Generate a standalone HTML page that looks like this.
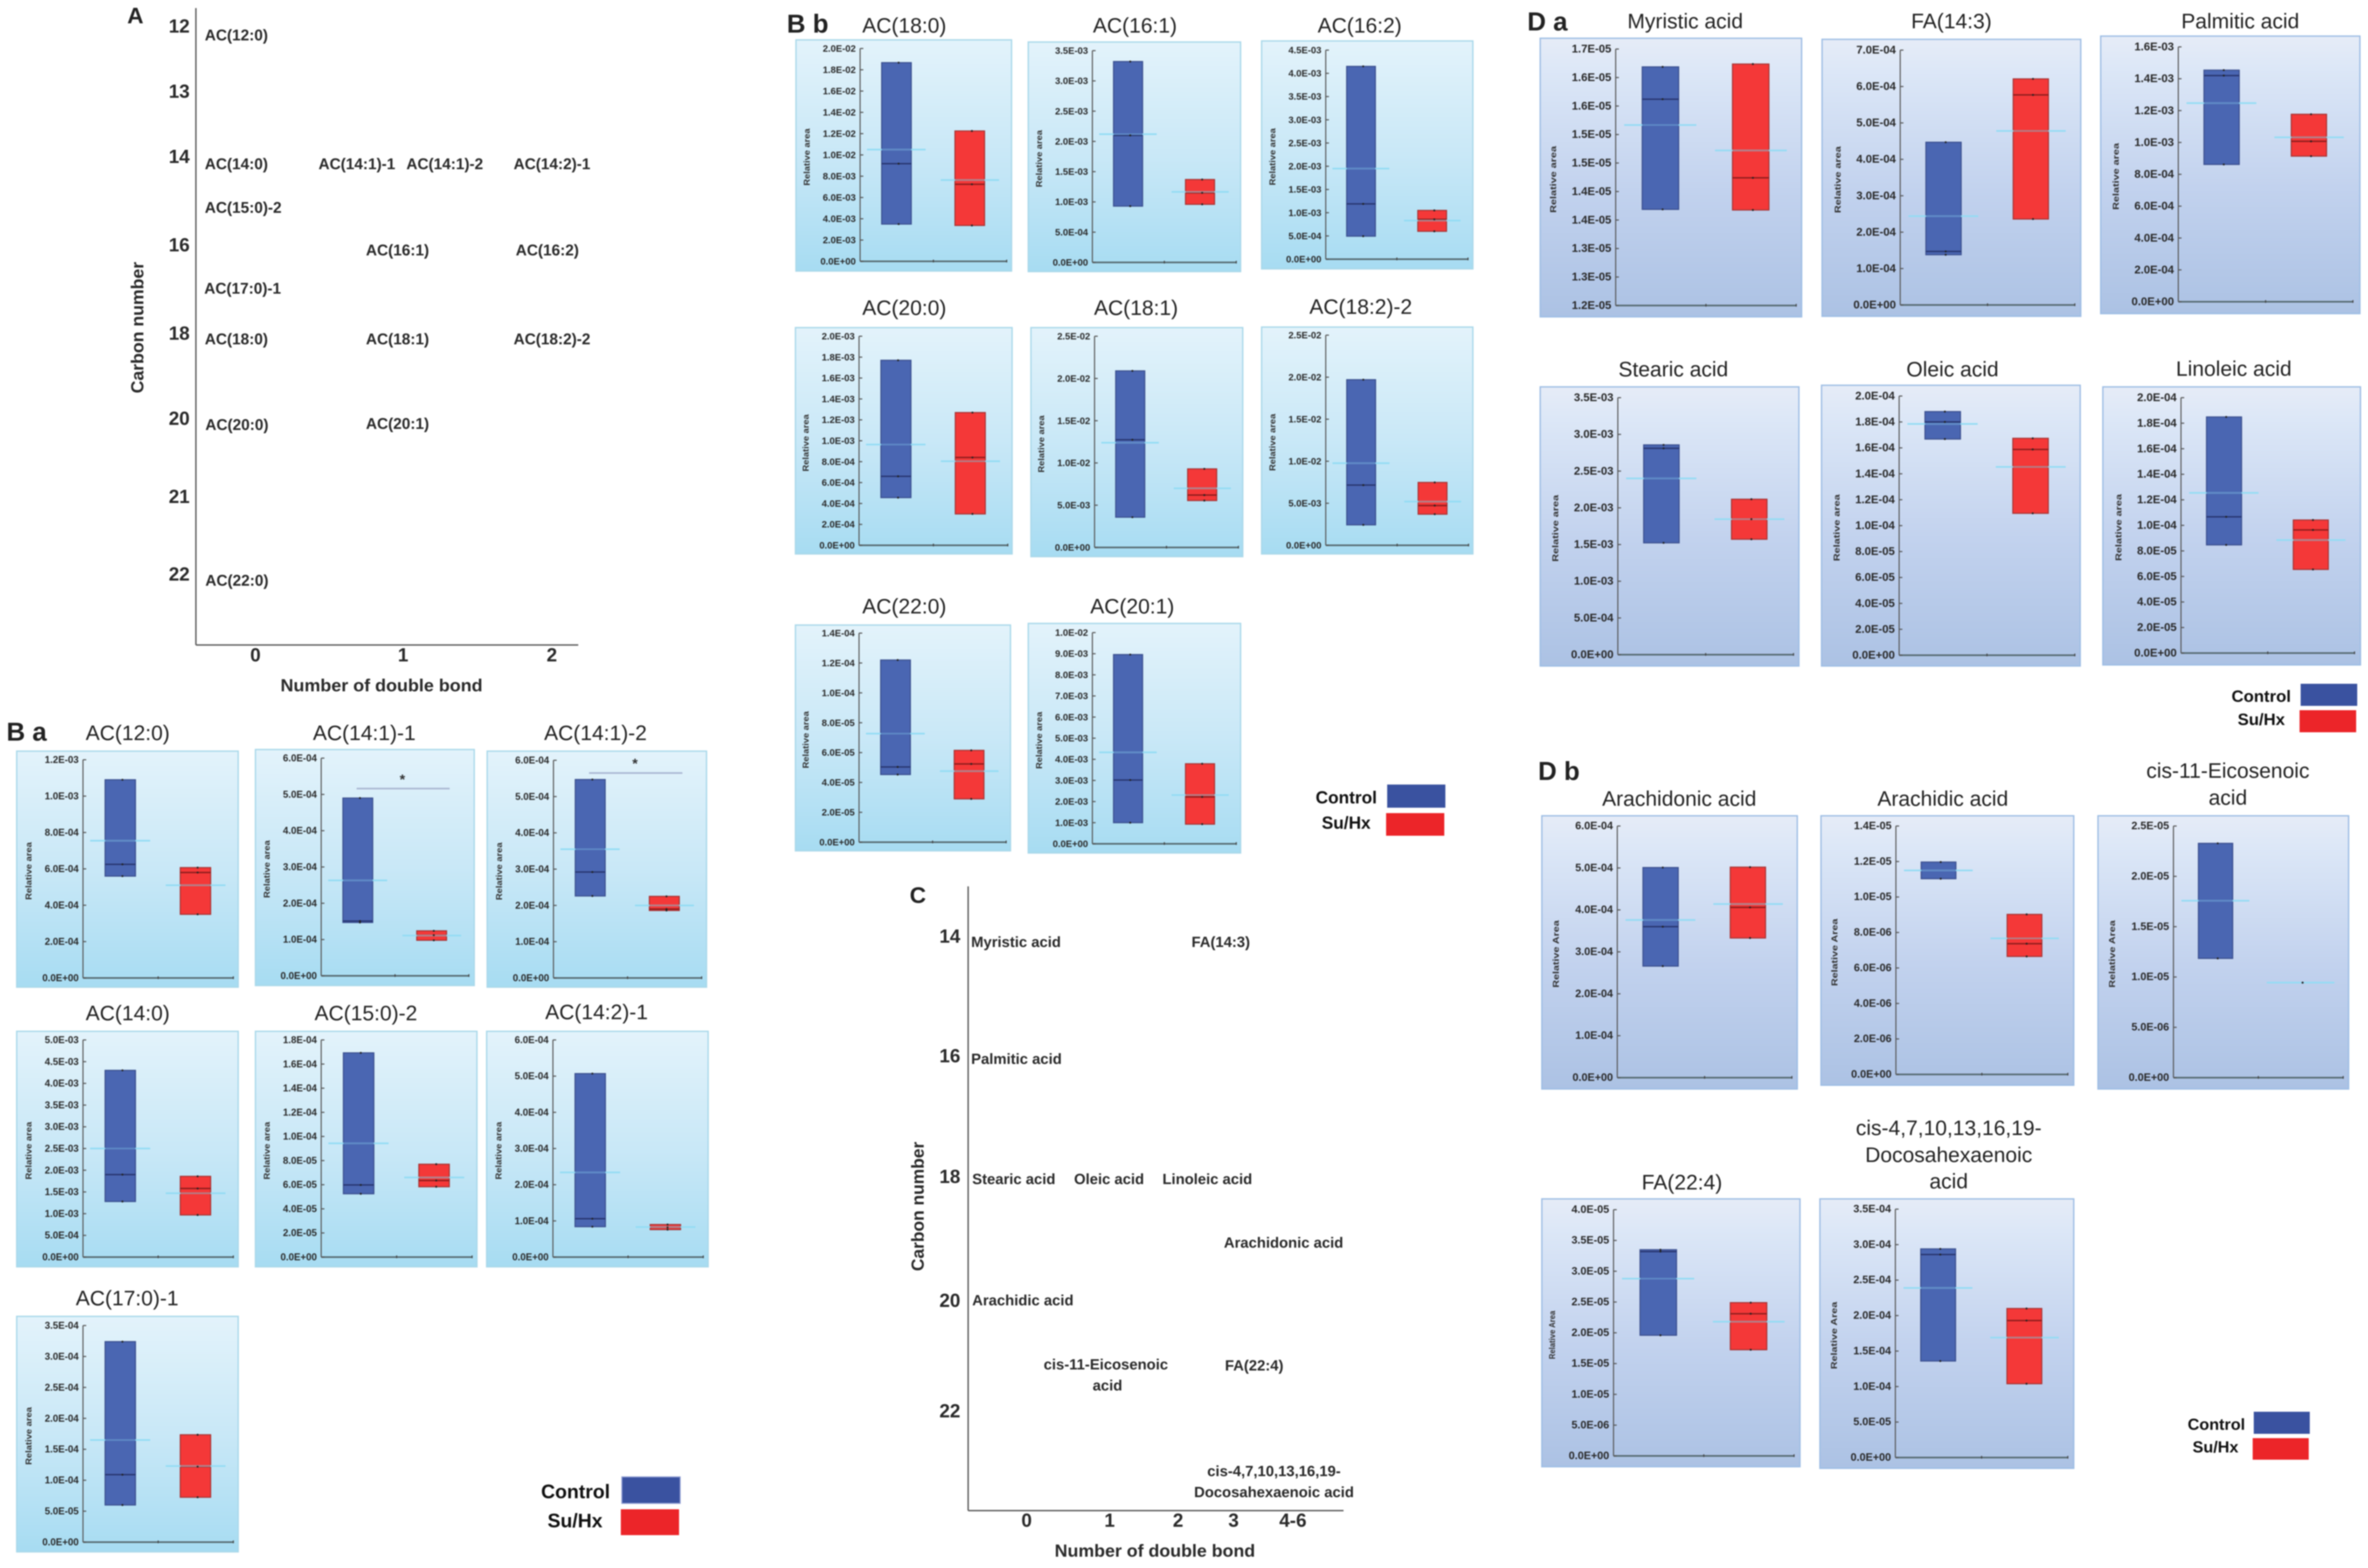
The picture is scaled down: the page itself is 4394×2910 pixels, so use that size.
<!DOCTYPE html>
<html lang="en">
<head>
<meta charset="utf-8">
<title>Acylcarnitine and fatty acid box plots</title>
<style>
html,body{margin:0;padding:0;background:#fff;width:4394px;height:2910px;overflow:hidden}
svg{display:block;font-family:"Liberation Sans",sans-serif;filter:blur(1px)}
.lab{font-size:27.5px;font-weight:700;fill:#2a2a2a;dominant-baseline:central}
.laba{font-size:28.5px}
.num{font-size:35px;font-weight:700;fill:#2a2a2a;dominant-baseline:central}
.axt{font-size:32px;font-weight:700;fill:#2a2a2a;dominant-baseline:central;text-anchor:middle}
.sec{font-size:48px;font-weight:700;fill:#222;dominant-baseline:central}
.ttl{font-size:39px;fill:#222;dominant-baseline:central;text-anchor:middle}
.lg{font-weight:700;fill:#111;dominant-baseline:central}
</style>
</head>
<body>
<svg id="figure" xmlns="http://www.w3.org/2000/svg" width="4394" height="2910" viewBox="0 0 4394 2910">
<defs>
<linearGradient id="skyPanel" x1="0" y1="0" x2="0" y2="1"><stop offset="0" stop-color="#e3f3fb"/><stop offset=".5" stop-color="#c9e8f7"/><stop offset="1" stop-color="#a7dcf2"/></linearGradient>
<linearGradient id="periPanel" x1="0" y1="0" x2="0" y2="1"><stop offset="0" stop-color="#e6ecf7"/><stop offset=".12" stop-color="#dce7f7"/><stop offset=".55" stop-color="#c2d2ee"/><stop offset="1" stop-color="#acc2e4"/></linearGradient>
</defs>
<rect x="0" y="0" width="4394" height="2910" fill="#ffffff"/>

<!-- Panel A -->
<g>
<text class="sec" x="236" y="29" style="font-size:42px">A</text>
<line x1="363.5" y1="15" x2="363.5" y2="1197" stroke="#555" stroke-width="2.5"/>
<line x1="363.5" y1="1197" x2="1073" y2="1197" stroke="#555" stroke-width="2.5"/>
<text class="axt" transform="rotate(-90 255 608)" x="255" y="608" textLength="244" lengthAdjust="spacingAndGlyphs">Carbon number</text>
<text class="axt" x="708" y="1272" textLength="375" lengthAdjust="spacingAndGlyphs">Number of double bond</text>
<g text-anchor="end">
<text class="num" x="352" y="49">12</text>
<text class="num" x="352" y="170">13</text>
<text class="num" x="352" y="291">14</text>
<text class="num" x="352" y="455">16</text>
<text class="num" x="352" y="619">18</text>
<text class="num" x="352" y="777">20</text>
<text class="num" x="352" y="922">21</text>
<text class="num" x="352" y="1066">22</text>
</g>
<g text-anchor="middle">
<text class="num" x="474" y="1216">0</text>
<text class="num" x="748" y="1216">1</text>
<text class="num" x="1024" y="1216">2</text>
</g>
<text class="lab laba" x="380" y="66">AC(12:0)</text>
<text class="lab laba" x="380" y="305">AC(14:0)</text>
<text class="lab laba" x="591" y="305">AC(14:1)-1</text>
<text class="lab laba" x="754" y="305">AC(14:1)-2</text>
<text class="lab laba" x="953" y="305">AC(14:2)-1</text>
<text class="lab laba" x="380" y="386">AC(15:0)-2</text>
<text class="lab laba" x="679" y="465">AC(16:1)</text>
<text class="lab laba" x="957" y="465">AC(16:2)</text>
<text class="lab laba" x="379" y="536">AC(17:0)-1</text>
<text class="lab laba" x="380" y="630">AC(18:0)</text>
<text class="lab laba" x="679" y="630">AC(18:1)</text>
<text class="lab laba" x="953" y="630">AC(18:2)-2</text>
<text class="lab laba" x="381" y="789">AC(20:0)</text>
<text class="lab laba" x="679" y="787">AC(20:1)</text>
<text class="lab laba" x="381" y="1078">AC(22:0)</text>
</g>

<!-- Panel C -->
<g>
<text class="sec" x="1688" y="1661" style="font-size:42px">C</text>
<line x1="1796.5" y1="1645" x2="1796.5" y2="2803.5" stroke="#555" stroke-width="2.5"/>
<line x1="1796.5" y1="2803.5" x2="2493" y2="2803.5" stroke="#555" stroke-width="2.5"/>
<text class="axt" transform="rotate(-90 1703 2239)" x="1703" y="2239" textLength="240" lengthAdjust="spacingAndGlyphs">Carbon number</text>
<text class="axt" x="2143" y="2878" textLength="372" lengthAdjust="spacingAndGlyphs">Number of double bond</text>
<g text-anchor="end">
<text class="num" x="1782" y="1738">14</text>
<text class="num" x="1782" y="1960">16</text>
<text class="num" x="1782" y="2184">18</text>
<text class="num" x="1782" y="2414">20</text>
<text class="num" x="1782" y="2619">22</text>
</g>
<g text-anchor="middle">
<text class="num" x="1905" y="2822">0</text>
<text class="num" x="2059" y="2822">1</text>
<text class="num" x="2186" y="2822">2</text>
<text class="num" x="2289" y="2822">3</text>
<text class="num" x="2399" y="2822">4-6</text>
</g>
<text class="lab" x="1802" y="1748">Myristic acid</text>
<text class="lab" x="2211" y="1748">FA(14:3)</text>
<text class="lab" x="1802" y="1965">Palmitic acid</text>
<text class="lab" x="1804" y="2188">Stearic acid</text>
<text class="lab" x="1993" y="2188">Oleic acid</text>
<text class="lab" x="2157" y="2188">Linoleic acid</text>
<text class="lab" x="2271" y="2306">Arachidonic acid</text>
<text class="lab" x="1804" y="2413">Arachidic acid</text>
<text class="lab" text-anchor="middle" x="2052" y="2532">cis-11-Eicosenoic</text>
<text class="lab" text-anchor="middle" x="2055" y="2571">acid</text>
<text class="lab" x="2273" y="2534">FA(22:4)</text>
<text class="lab" text-anchor="middle" x="2364" y="2730">cis-4,7,10,13,16,19-</text>
<text class="lab" text-anchor="middle" x="2364" y="2769">Docosahexaenoic acid</text>
</g>

<!-- Section letters -->
<text class="sec" x="12" y="1359">B a</text>
<text class="sec" x="1460" y="45">B b</text>
<text class="sec" x="2834" y="41">D a</text>
<text class="sec" x="2854" y="1432">D b</text>

<!-- Panel titles -->
<g>
<text class="ttl" x="237" y="1361">AC(12:0)</text>
<text class="ttl" x="676" y="1361">AC(14:1)-1</text>
<text class="ttl" x="1105" y="1361">AC(14:1)-2</text>
<text class="ttl" x="237" y="1881">AC(14:0)</text>
<text class="ttl" x="679" y="1881">AC(15:0)-2</text>
<text class="ttl" x="1107" y="1879">AC(14:2)-1</text>
<text class="ttl" x="236" y="2410">AC(17:0)-1</text>
<text class="ttl" x="1678" y="48">AC(18:0)</text>
<text class="ttl" x="2106" y="48">AC(16:1)</text>
<text class="ttl" x="2523" y="48">AC(16:2)</text>
<text class="ttl" x="1678" y="572">AC(20:0)</text>
<text class="ttl" x="2108" y="572">AC(18:1)</text>
<text class="ttl" x="2525" y="570">AC(18:2)-2</text>
<text class="ttl" x="1678" y="1126">AC(22:0)</text>
<text class="ttl" x="2101" y="1126">AC(20:1)</text>
<text class="ttl" x="3127" y="40">Myristic acid</text>
<text class="ttl" x="3621" y="40">FA(14:3)</text>
<text class="ttl" x="4157" y="40">Palmitic acid</text>
<text class="ttl" x="3105" y="686">Stearic acid</text>
<text class="ttl" x="3623" y="686">Oleic acid</text>
<text class="ttl" x="4145" y="685">Linoleic acid</text>
<text class="ttl" x="3116" y="1483">Arachidonic acid</text>
<text class="ttl" x="3605" y="1483">Arachidic acid</text>
<text class="ttl" x="4134" y="1431">cis-11-Eicosenoic</text>
<text class="ttl" x="4134" y="1481">acid</text>
<text class="ttl" x="3121" y="2195">FA(22:4)</text>
<text class="ttl" x="3616" y="2094">cis-4,7,10,13,16,19-</text>
<text class="ttl" x="3616" y="2144">Docosahexaenoic</text>
<text class="ttl" x="3616" y="2193">acid</text>
</g>

<!-- Legends -->
<g>
<text class="lg" x="1132" y="2768" text-anchor="end" font-size="36">Control</text>
<rect x="1154" y="2741" width="108" height="49" fill="#3a52a0" stroke="#8c9ad0" stroke-width="2"/>
<text class="lg" x="1067" y="2822" text-anchor="middle" font-size="36">Su/Hx</text>
<rect x="1152" y="2801" width="108" height="48" fill="#ec2529"/>
</g>
<g>
<text class="lg" x="2555" y="1480" text-anchor="end" font-size="32">Control</text>
<rect x="2574" y="1456" width="108" height="43" fill="#3a52a0"/>
<text class="lg" x="2498" y="1527" text-anchor="middle" font-size="32">Su/Hx</text>
<rect x="2572" y="1509" width="108" height="42" fill="#ec2529"/>
</g>
<g>
<text class="lg" x="4251" y="1292" text-anchor="end" font-size="31">Control</text>
<rect x="4269" y="1269" width="105" height="41" fill="#3a52a0"/>
<text class="lg" x="4196" y="1335" text-anchor="middle" font-size="31">Su/Hx</text>
<rect x="4267" y="1318" width="105" height="41" fill="#ec2529"/>
</g>
<g>
<text class="lg" x="4166" y="2644" text-anchor="end" font-size="30">Control</text>
<rect x="4182" y="2620" width="104" height="41" fill="#3a52a0"/>
<text class="lg" x="4111" y="2686" text-anchor="middle" font-size="30">Su/Hx</text>
<rect x="4180" y="2669" width="104" height="40" fill="#ec2529"/>
</g>

<g id="panels"></g>
</svg>

<script>
// ---------- DATA ----------
const panelKeys = ["ac-12-0","ac-14-1-1","ac-14-1-2","ac-14-0","ac-15-0-2","ac-14-2-1","ac-17-0-1",
  "ac-18-0","ac-16-1","ac-16-2","ac-20-0","ac-18-1","ac-18-2-2","ac-22-0","ac-20-1",
  "myristic-acid","fa-14-3","palmitic-acid","stearic-acid","oleic-acid","linoleic-acid",
  "arachidonic-acid","arachidic-acid","cis-11-eicosenoic-acid","fa-22-4","dha"];

const axisMin = [0,0,0,0,0,0,0, 0,0,0,0,0,0,0,0, 1.2e-5,0,0,0,0,0, 0,0,0,0,0];
const axisMax = [1.2e-3,6e-4,6e-4,5e-3,1.8e-4,6e-4,3.5e-4,
  2e-2,3.5e-3,4.5e-3,2e-3,2.5e-2,2.5e-2,1.4e-4,1e-2,
  1.65e-5,7e-4,1.6e-3,3.5e-3,2e-4,2e-4,
  6e-4,1.4e-5,2.5e-5,4e-5,3.5e-4];

const tickLabels = [
  ["0.0E+00","2.0E-04","4.0E-04","6.0E-04","8.0E-04","1.0E-03","1.2E-03"],
  ["0.0E+00","1.0E-04","2.0E-04","3.0E-04","4.0E-04","5.0E-04","6.0E-04"],
  ["0.0E+00","1.0E-04","2.0E-04","3.0E-04","4.0E-04","5.0E-04","6.0E-04"],
  ["0.0E+00","5.0E-04","1.0E-03","1.5E-03","2.0E-03","2.5E-03","3.0E-03","3.5E-03","4.0E-03","4.5E-03","5.0E-03"],
  ["0.0E+00","2.0E-05","4.0E-05","6.0E-05","8.0E-05","1.0E-04","1.2E-04","1.4E-04","1.6E-04","1.8E-04"],
  ["0.0E+00","1.0E-04","2.0E-04","3.0E-04","4.0E-04","5.0E-04","6.0E-04"],
  ["0.0E+00","5.0E-05","1.0E-04","1.5E-04","2.0E-04","2.5E-04","3.0E-04","3.5E-04"],
  ["0.0E+00","2.0E-03","4.0E-03","6.0E-03","8.0E-03","1.0E-02","1.2E-02","1.4E-02","1.6E-02","1.8E-02","2.0E-02"],
  ["0.0E+00","5.0E-04","1.0E-03","1.5E-03","2.0E-03","2.5E-03","3.0E-03","3.5E-03"],
  ["0.0E+00","5.0E-04","1.0E-03","1.5E-03","2.0E-03","2.5E-03","3.0E-03","3.5E-03","4.0E-03","4.5E-03"],
  ["0.0E+00","2.0E-04","4.0E-04","6.0E-04","8.0E-04","1.0E-03","1.2E-03","1.4E-03","1.6E-03","1.8E-03","2.0E-03"],
  ["0.0E+00","5.0E-03","1.0E-02","1.5E-02","2.0E-02","2.5E-02"],
  ["0.0E+00","5.0E-03","1.0E-02","1.5E-02","2.0E-02","2.5E-02"],
  ["0.0E+00","2.0E-05","4.0E-05","6.0E-05","8.0E-05","1.0E-04","1.2E-04","1.4E-04"],
  ["0.0E+00","1.0E-03","2.0E-03","3.0E-03","4.0E-03","5.0E-03","6.0E-03","7.0E-03","8.0E-03","9.0E-03","1.0E-02"],
  ["1.2E-05","1.3E-05","1.3E-05","1.4E-05","1.4E-05","1.5E-05","1.5E-05","1.6E-05","1.6E-05","1.7E-05"],
  ["0.0E+00","1.0E-04","2.0E-04","3.0E-04","4.0E-04","5.0E-04","6.0E-04","7.0E-04"],
  ["0.0E+00","2.0E-04","4.0E-04","6.0E-04","8.0E-04","1.0E-03","1.2E-03","1.4E-03","1.6E-03"],
  ["0.0E+00","5.0E-04","1.0E-03","1.5E-03","2.0E-03","2.5E-03","3.0E-03","3.5E-03"],
  ["0.0E+00","2.0E-05","4.0E-05","6.0E-05","8.0E-05","1.0E-04","1.2E-04","1.4E-04","1.6E-04","1.8E-04","2.0E-04"],
  ["0.0E+00","2.0E-05","4.0E-05","6.0E-05","8.0E-05","1.0E-04","1.2E-04","1.4E-04","1.6E-04","1.8E-04","2.0E-04"],
  ["0.0E+00","1.0E-04","2.0E-04","3.0E-04","4.0E-04","5.0E-04","6.0E-04"],
  ["0.0E+00","2.0E-06","4.0E-06","6.0E-06","8.0E-06","1.0E-05","1.2E-05","1.4E-05"],
  ["0.0E+00","5.0E-06","1.0E-05","1.5E-05","2.0E-05","2.5E-05"],
  ["0.0E+00","5.0E-06","1.0E-05","1.5E-05","2.0E-05","2.5E-05","3.0E-05","3.5E-05","4.0E-05"],
  ["0.0E+00","5.0E-05","1.0E-04","1.5E-04","2.0E-04","2.5E-04","3.0E-04","3.5E-04"]
];

const controlLow = [5.6e-4,1.47e-4,2.26e-4,1.28e-3,5.25e-5,8.4e-5,6.0e-5,
  3.5e-3,9.3e-4,4.95e-4,4.56e-4,3.58e-3,2.43e-3,4.53e-5,1.0e-3,
  1.3687e-5,1.38e-4,8.62e-4,1.523e-3,1.668e-4,8.47e-5,
  2.66e-4,1.103e-5,1.185e-5,1.96e-5,1.36e-4];
const controlHigh = [1.09e-3,4.9e-4,5.47e-4,4.3e-3,1.693e-4,5.07e-4,3.24e-4,
  1.867e-2,3.32e-3,4.15e-3,1.77e-3,2.09e-2,1.97e-2,1.22e-4,8.96e-3,
  1.6187e-5,4.47e-4,1.454e-3,2.857e-3,1.88e-4,1.849e-4,
  5.01e-4,1.197e-5,2.328e-5,3.35e-5,2.94e-4];
const controlMedian = [6.25e-4,1.51e-4,2.92e-4,1.9e-3,5.98e-5,1.06e-4,1.09e-4,
  9.18e-3,2.1e-3,1.19e-3,6.6e-4,1.275e-2,7.16e-3,5.04e-5,3.02e-3,
  1.562e-5,1.47e-4,1.42e-3,2.81e-3,1.8e-4,1.067e-4,
  3.6e-4,null,null,3.32e-5,2.86e-4];
const controlMean = [7.55e-4,2.63e-4,3.55e-4,2.5e-3,9.43e-5,2.34e-4,1.65e-4,
  1.05e-2,2.12e-3,1.95e-3,9.64e-4,1.24e-2,9.77e-3,7.27e-5,4.33e-3,
  1.5167e-5,2.44e-4,1.247e-3,2.4e-3,1.785e-4,1.254e-4,
  3.76e-4,1.15e-5,1.758e-5,2.88e-5,2.39e-4];

const suhxLow = [3.5e-4,9.8e-5,1.86e-4,9.7e-4,5.83e-5,7.6e-5,7.25e-5,
  3.37e-3,9.6e-4,6.0e-4,3.0e-4,5.55e-3,3.7e-3,2.9e-5,9.3e-4,
  1.3676e-5,2.36e-4,9.14e-4,1.572e-3,1.095e-4,6.55e-5,
  3.33e-4,6.65e-6,9.44e-6,1.725e-5,1.04e-4];
const suhxHigh = [6.07e-4,1.24e-4,2.25e-4,1.86e-3,7.7e-5,9.0e-5,1.735e-4,
  1.225e-2,1.37e-3,1.05e-3,1.27e-3,9.3e-3,7.48e-3,6.15e-5,3.79e-3,
  1.6237e-5,6.21e-4,1.177e-3,2.117e-3,1.674e-4,1.042e-4,
  5.02e-4,9.02e-6,9.44e-6,2.49e-5,2.1e-4];
const suhxMedian = [5.8e-4,1.12e-4,1.9e-4,1.58e-3,6.35e-5,8.2e-5,1.22e-4,
  7.24e-3,1.15e-3,8.57e-4,8.4e-4,6.2e-3,4.73e-3,5.24e-5,2.22e-3,
  1.424e-5,5.77e-4,1.007e-3,1.845e-3,1.588e-4,9.64e-5,
  4.06e-4,7.37e-6,null,2.31e-5,1.93e-4];
const suhxMean = [5.1e-4,1.11e-4,2.0e-4,1.47e-3,6.6e-5,8.3e-5,1.23e-4,
  7.64e-3,1.165e-3,8.3e-4,8.04e-4,7.0e-3,5.2e-3,4.76e-5,2.31e-3,
  1.472e-5,4.78e-4,1.032e-3,1.845e-3,1.453e-4,8.85e-5,
  4.14e-4,7.67e-6,9.44e-6,2.18e-5,1.69e-4];

const significancePanels = [1,2];
const significanceBarValues = [5.16e-4,5.65e-4];
const significanceStarValues = [5.5e-4,6.0e-4];

// ---------- LAYOUT (pixels; not data) ----------
const frameBoxes = [
 [31,1394,442,1832],[474,1391,880,1829],[904,1394,1311,1832],[31,1914,442,2351],[474,1914,885,2351],[903,1914,1314,2351],[31,2443,442,2880],
 [1477,74,1877,503],[1908,78,2302,504],[2341,76,2733,499],[1476,608,1878,1028],[1913,608,2306,1033],[2341,607,2733,1028],[1476,1160,1875,1579],[1908,1157,2302,1583],
 [2858,71,3343,588],[3381,73,3861,587],[3898,67,4379,582],[2858,718,3338,1236],[3380,715,3860,1236],[3902,718,4380,1234],
 [2861,1514,3335,2021],[3379,1514,3848,2014],[3893,1514,4358,2021],[2861,2225,3340,2722],[3377,2225,3848,2725]
];
const axisBoxes = [
 [154,433,1410,1815],[596,870,1407,1811],[1027,1302,1411,1815],[154,433,1930,2333],[596,876,1930,2333],[1026,1305,1930,2333],[154,433,2460,2862],
 [1596,1868,90,485],[2027,2294,94,487],[2460,2724,93,481],[1594,1870,624,1012],[2031,2298,624,1016],[2460,2725,622,1012],[1594,1867,1175,1563],[2027,2294,1174,1566],
 [2998,3333,91,567],[3526,3850,93,566],[4042,4366,87,560],[3002,3328,738,1215],[3524,3850,735,1216],[4047,4369,738,1212],
 [3001,3325,1533,2000],[3518,3837,1533,1994],[4033,4348,1533,2000],[2994,3329,2245,2702],[3517,3837,2244,2705]
];
function groupStyle(i){
  if(i<7)  return {grad:'url(#skyPanel)',edge:'#a9d8ea',font:18,off:100,len:107,word:'Relative area'};
  if(i<15) return {grad:'url(#skyPanel)',edge:'#a9d8ea',font:17.5,off:98,len:106,word:'Relative area'};
  if(i<21) return {grad:'url(#periPanel)',edge:'#9dbde4',font:21,off:115,len:124,word:'Relative area'};
  if(i===24) return {grad:'url(#periPanel)',edge:'#9dbde4',font:20,off:113,len:90,word:'Relative Area'};
  return {grad:'url(#periPanel)',edge:'#9dbde4',font:20,off:113,len:125,word:'Relative Area'};
}
const boxStart=[0.147,0.647], boxEnd=[0.349,0.849], meanStart=[0.047,0.55], meanEnd=[0.447,0.948];
const meanOverBox=['#5f8ac6','#b0808a'];

const NS='http://www.w3.org/2000/svg';
function mk(tag,parent){const e=document.createElementNS(NS,tag);parent.appendChild(e);return e;}
function put(e,o){for(const k in o)e.setAttribute(k,o[k]);return e;}
const root=document.getElementById('panels');

panelKeys.forEach(function(key,i){
  const F=frameBoxes[i],A=axisBoxes[i],S=groupStyle(i);
  const axL=A[0],axR=A[1],axT=A[2],axB=A[3],lo=axisMin[i],hi=axisMax[i];
  const xAt=function(f){return axL+f*(axR-axL);};
  const yAt=function(v){return axB-(v-lo)/(hi-lo)*(axB-axT);};

  const g=mk('g',root);
  
  

  const bg=mk('rect',g);
  
  
  put(bg,{x:F[0],y:F[1],width:F[2]-F[0],height:F[3]-F[1],fill:S.grad,stroke:S.edge,'stroke-width':2.5});

  const yl=mk('text',g);
  
  
  const ylx=axL-S.off, yly=(axT+axB)/2+4;
  put(yl,{x:ylx,y:yly,transform:'rotate(-90 '+ylx+' '+yly+')','text-anchor':'middle','dominant-baseline':'central','font-size':16,'font-weight':700,fill:'#333',textLength:S.len,lengthAdjust:'spacingAndGlyphs'});
  yl.textContent=S.word;

  const yAxis=mk('line',g);
  
  
  put(yAxis,{x1:axL,y1:axT,x2:axL,y2:axB,stroke:'#555','stroke-width':2});

  const xAxis=mk('line',g);
  
  
  put(xAxis,{x1:axL,y1:axB,x2:axR,y2:axB,stroke:'#55696f','stroke-width':3});

  [0.5,1].forEach(function(f){
    const xt=mk('line',g);
    
    
    put(xt,{x1:xAt(f),y1:axB-3,x2:xAt(f),y2:axB+2,stroke:'#444','stroke-width':2});
  });

  const labels=tickLabels[i], n=labels.length-1;
  labels.forEach(function(lbl,k){
    const y=axB-k/n*(axB-axT);
    const tk=mk('line',g);
    
    
    put(tk,{x1:axL,y1:y,x2:axL+6,y2:y,stroke:'#555','stroke-width':2});
    const tx=mk('text',g);
    
    
    put(tx,{x:axL-8,y:y,'text-anchor':'end','dominant-baseline':'central','font-size':S.font,'font-weight':700,fill:'#2a2a2a'});
    tx.textContent=lbl;
  });

  const series=[
    {name:'control',low:controlLow[i],high:controlHigh[i],med:controlMedian[i],mean:controlMean[i],fill:'#4a66b2',edge:'#3b4f8e',medc:'#27346e'},
    {name:'su-hx',low:suhxLow[i],high:suhxHigh[i],med:suhxMedian[i],mean:suhxMean[i],fill:'#f43838',edge:'#a83434',medc:'#8a1c1c'}
  ];
  series.forEach(function(s,j){
    const x0=xAt(boxStart[j]),x1=xAt(boxEnd[j]),yTop=yAt(s.high),yBot=yAt(s.low);
    const box=mk('rect',g);
    
    
    put(box,{x:x0,y:yTop,width:x1-x0,height:yBot-yTop,fill:s.fill,stroke:s.edge,'stroke-width':yBot>yTop?2:0});
    if(s.med!==null){
      const md=mk('line',g);
      
      
      put(md,{x1:x0,y1:yAt(s.med),x2:x1,y2:yAt(s.med),stroke:s.medc,'stroke-width':2.5});
    }
    const mn=mk('line',g);
    
    
    put(mn,{x1:xAt(meanStart[j]),y1:yAt(s.mean),x2:xAt(meanEnd[j]),y2:yAt(s.mean),stroke:'#92dcf4','stroke-width':3});
    if(s.mean>s.low&&s.mean<s.high){
      const mo=mk('line',g);
      
      
      put(mo,{x1:x0,y1:yAt(s.mean),x2:x1,y2:yAt(s.mean),stroke:meanOverBox[j],'stroke-width':3});
    }
    [s.high,s.med,s.low].forEach(function(v){
      if(v===null)return;
      const dot=mk('circle',g);
      
      
      put(dot,{cx:(x0+x1)/2+4,cy:yAt(v),r:1.8,fill:'#222'});
    });
  });

  const si=significancePanels.indexOf(i);
  if(si>=0){
    const bar=mk('line',g);
    
    
    put(bar,{x1:xAt(0.24),y1:yAt(significanceBarValues[si]),x2:xAt(0.87),y2:yAt(significanceBarValues[si]),stroke:'#a9b6d2','stroke-width':3});
    const star=mk('text',g);
    
    
    put(star,{x:xAt(0.55),y:yAt(significanceStarValues[si])+6,'text-anchor':'middle','dominant-baseline':'central','font-size':26,'font-weight':700,fill:'#333'});
    star.textContent='*';
  }
});
</script>
</body>
</html>
